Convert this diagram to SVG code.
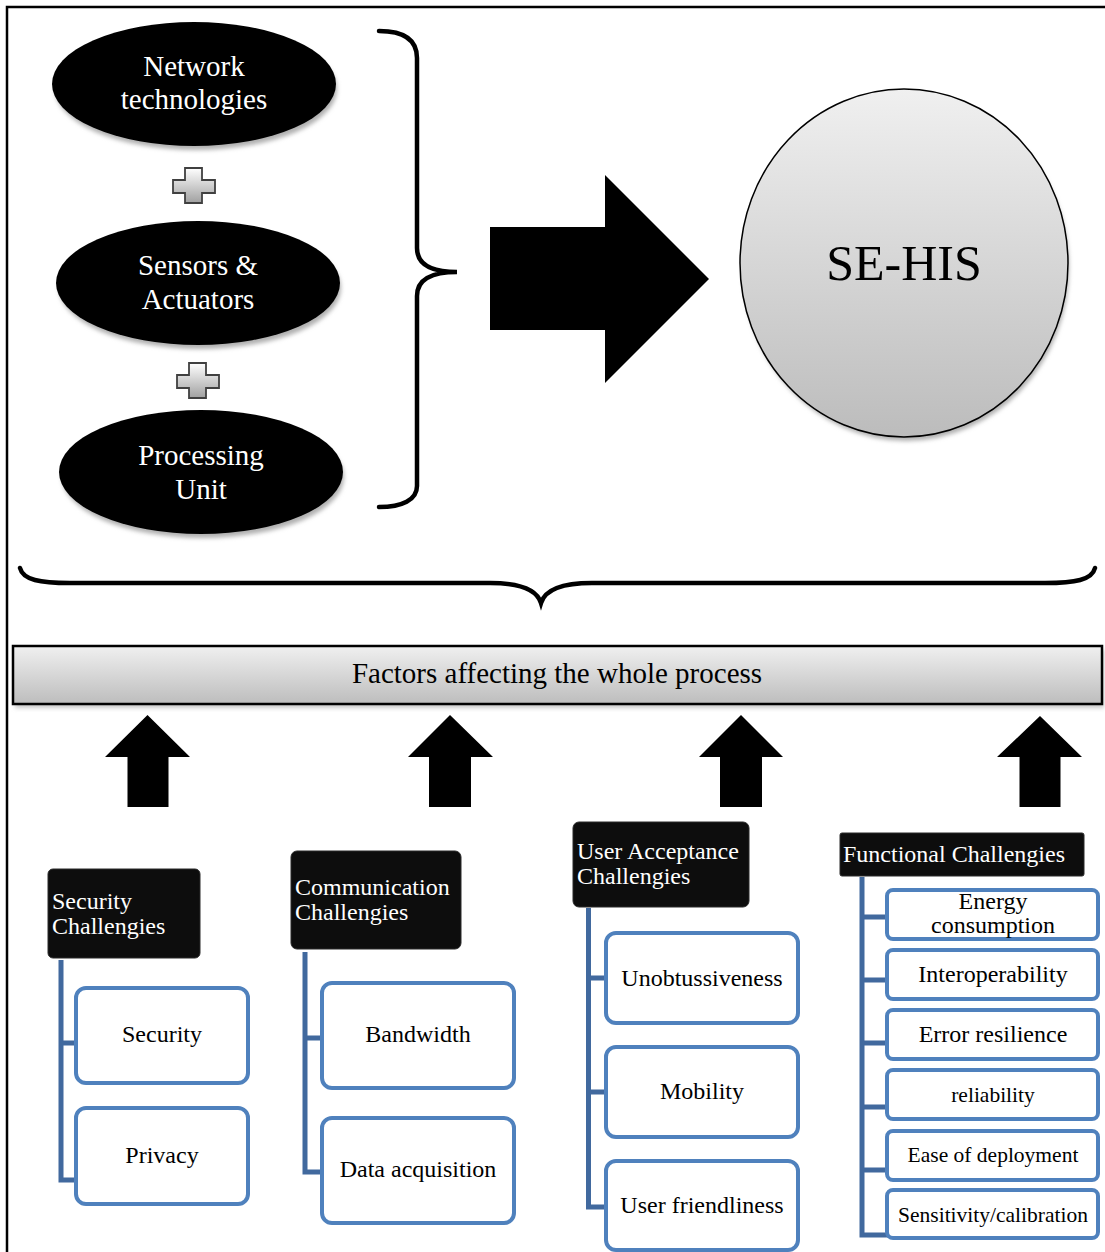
<svg xmlns="http://www.w3.org/2000/svg" width="1105" height="1252" viewBox="0 0 1105 1252">
<defs>
<linearGradient id="gCircle" x1="0" y1="0" x2="0" y2="1"><stop offset="0" stop-color="#f0f0f0"/><stop offset="1" stop-color="#bcbcbc"/></linearGradient>
<linearGradient id="gBanner" x1="0" y1="0" x2="0" y2="1"><stop offset="0" stop-color="#f0f0f0"/><stop offset="1" stop-color="#bdbdbd"/></linearGradient>
<linearGradient id="gPlus" x1="0" y1="0" x2="0" y2="1"><stop offset="0" stop-color="#ffffff"/><stop offset="1" stop-color="#a0a0a0"/></linearGradient>
<filter id="blur" x="-10%" y="-10%" width="120%" height="130%"><feGaussianBlur stdDeviation="2"/></filter>
</defs>
<style>
.serif{font-family:"Liberation Serif","Times New Roman",serif;}
.ell{fill:#000;}
.shadow{fill:#b0b0b0;filter:url(#blur);}
.wt{fill:#fff;text-anchor:middle;font-size:29px;}
.hdr{fill:#0d0d0d;stroke:#2a2a2a;stroke-width:1;}
.ht{fill:#fff;font-size:24px;}
.box{fill:#fff;stroke:#4f81bd;stroke-width:4;}
.bt{fill:#000;text-anchor:middle;font-size:24px;}
.bs{fill:#000;text-anchor:middle;font-size:21.5px;}
.conn{fill:none;stroke:#41699e;stroke-width:5;}
.plus{fill:url(#gPlus);stroke:#404040;stroke-width:1.8;}
.arrow{fill:#000;}
.brace{fill:none;stroke:#000;stroke-width:4.5;stroke-linecap:round;}
</style>
<rect width="1105" height="1252" fill="#fff"/>
<!-- page frame -->
<path d="M7 1252 V7 H1105" fill="none" stroke="#000" stroke-width="2.5"/>

<g id="node-network" class="serif">
<ellipse class="shadow" cx="196" cy="89" rx="141" ry="61"/>
<ellipse class="ell" cx="194" cy="84" rx="142" ry="62"/>
<text class="wt" x="194" y="76">Network</text>
<text class="wt" x="194" y="109">technologies</text>
</g>
<g id="plus-1"><path class="plus" d="M185 168 H202 V180 H215 V193 H202 V203 H185 V193 H173 V180 H185 Z"/></g>
<g id="node-sensors" class="serif">
<ellipse class="shadow" cx="200" cy="288" rx="141" ry="61"/>
<ellipse class="ell" cx="198" cy="283" rx="142" ry="62"/>
<text class="wt" x="198" y="275">Sensors &amp;</text>
<text class="wt" x="198" y="309">Actuators</text>
</g>
<g id="plus-2"><path class="plus" d="M189 363 H206 V375 H219 V388 H206 V398 H189 V388 H177 V375 H189 Z"/></g>
<g id="node-processing" class="serif">
<ellipse class="shadow" cx="203" cy="477" rx="141" ry="61"/>
<ellipse class="ell" cx="201" cy="472" rx="142" ry="62"/>
<text class="wt" x="201" y="465">Processing</text>
<text class="wt" x="201" y="499">Unit</text>
</g>

<g id="brace-right"><path class="brace" d="M379 31 C402 31 417 38 417 58 V248 C417 264 430 272 457 272 C430 272 417 280 417 296 V486 C417 500 402 507 379 507"/></g>
<g id="arrow-big"><path class="arrow" d="M490 227 H605 V175 L709 279 L605 383 V330 H490 Z"/></g>

<g id="node-sehis" class="serif">
<ellipse class="shadow" cx="906" cy="268" rx="163" ry="173"/>
<ellipse cx="904" cy="263" rx="164" ry="174" fill="url(#gCircle)" stroke="#000" stroke-width="1.5"/>
<text x="904" y="280" text-anchor="middle" font-size="50" fill="#000">SE-HIS</text>
</g>

<g id="brace-bottom"><path class="brace" d="M20 568 C23 580 40 583 70 583 H490 C522 583 537 590 541 603 C545 590 560 583 592 583 H1045 C1075 583 1092 580 1095 568"/></g>

<g id="node-factors" class="serif">
<rect x="15" y="650" width="1089" height="58" fill="#c8c8c8" filter="url(#blur)"/>
<rect x="13" y="646" width="1089" height="58" fill="url(#gBanner)" stroke="#000" stroke-width="2.5"/>
<text x="557" y="683" text-anchor="middle" font-size="29" fill="#000">Factors affecting the whole process</text>
</g>

<g id="up-arrows">
<path class="arrow" d="M147.5 715 L190 757 H168.5 V807 H127.5 V757 H105 Z"/>
<path class="arrow" d="M450 715 L493 757 H471 V807 H429 V757 H408 Z"/>
<path class="arrow" d="M741 715 L783 757 H762 V807 H720 V757 H699 Z"/>
<path class="arrow" d="M1040 716 L1082 757 H1060.5 V807 H1019.5 V757 H997 Z"/>
</g>

<g id="connectors">
<path class="conn" d="M61 960 V1180 H76 M61 1043 H76"/>
<path class="conn" d="M305 952 V1172 H322 M305 1038 H322"/>
<path class="conn" d="M588.5 908 V1207 H606 M588.5 978 H606 M588.5 1092 H606"/>
<path class="conn" d="M862 877 V1235 H888 M862 917 H888 M862 980 H888 M862 1043 H888 M862 1107 H888 M862 1170 H888"/>
</g>

<g id="hdr-security" class="serif">
<rect class="hdr" x="48" y="869" width="152" height="89" rx="5"/>
<text class="ht" x="52" y="909">Security</text>
<text class="ht" x="52" y="934">Challengies</text>
</g>
<g id="hdr-communication" class="serif">
<rect class="hdr" x="291" y="851" width="170" height="98" rx="6"/>
<text class="ht" x="295" y="895">Communication</text>
<text class="ht" x="295" y="920">Challengies</text>
</g>
<g id="hdr-user" class="serif">
<rect class="hdr" x="573" y="822" width="176" height="85" rx="6"/>
<text class="ht" x="577" y="859">User Acceptance</text>
<text class="ht" x="577" y="884">Challengies</text>
</g>
<g id="hdr-functional" class="serif">
<rect class="hdr" x="840" y="833" width="244" height="43" rx="2"/>
<text class="ht" x="843" y="862">Functional Challengies</text>
</g>

<g id="box-security" class="serif"><rect class="box" x="76" y="988" width="172" height="95" rx="10"/><text class="bt" x="162" y="1042">Security</text></g>
<g id="box-privacy" class="serif"><rect class="box" x="76" y="1108" width="172" height="96" rx="10"/><text class="bt" x="162" y="1163">Privacy</text></g>
<g id="box-bandwidth" class="serif"><rect class="box" x="322" y="983" width="192" height="105" rx="10"/><text class="bt" x="418" y="1042">Bandwidth</text></g>
<g id="box-data" class="serif"><rect class="box" x="322" y="1118" width="192" height="105" rx="10"/><text class="bt" x="418" y="1177">Data acquisition</text></g>
<g id="box-unob" class="serif"><rect class="box" x="606" y="933" width="192" height="90" rx="10"/><text class="bt" x="702" y="986">Unobtussiveness</text></g>
<g id="box-mobility" class="serif"><rect class="box" x="606" y="1047" width="192" height="90" rx="10"/><text class="bt" x="702" y="1099">Mobility</text></g>
<g id="box-friendly" class="serif"><rect class="box" x="606" y="1161" width="192" height="89" rx="10"/><text class="bt" x="702" y="1213">User friendliness</text></g>
<g id="box-energy" class="serif"><rect class="box" x="887" y="890" width="211" height="49" rx="6"/><text class="bt" x="993" y="909">Energy</text><text class="bt" x="993" y="933">consumption</text></g>
<g id="box-interop" class="serif"><rect class="box" x="887" y="950" width="211" height="49" rx="6"/><text class="bt" x="993" y="982">Interoperability</text></g>
<g id="box-error" class="serif"><rect class="box" x="887" y="1010" width="211" height="49" rx="6"/><text class="bt" x="993" y="1042">Error resilience</text></g>
<g id="box-reliability" class="serif"><rect class="box" x="887" y="1070" width="211" height="49" rx="6"/><text class="bs" x="993" y="1102">reliability</text></g>
<g id="box-ease" class="serif"><rect class="box" x="887" y="1131" width="211" height="49" rx="6"/><text class="bs" x="993" y="1162">Ease of deployment</text></g>
<g id="box-sensitivity" class="serif"><rect class="box" x="887" y="1190" width="211" height="48" rx="6"/><text class="bs" x="993" y="1222">Sensitivity/calibration</text></g>
</svg>
